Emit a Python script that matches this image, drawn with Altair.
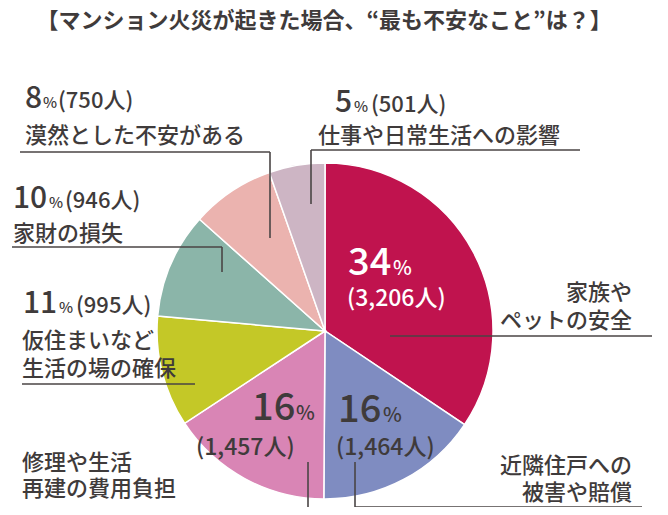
import altair as alt
import pandas as pd

# ---------------- data ----------------
categories = ["家族やペットの安全", "近隣住戸への被害や賠償", "修理や生活再建の費用負担",
              "仮住まいなど生活の場の確保", "家財の損失", "漠然とした不安がある", "仕事や日常生活への影響"]
label_lines = [["家族や", "ペットの安全"], ["近隣住戸への", "被害や賠償"], ["修理や生活", "再建の費用負担"],
               ["仮住まいなど", "生活の場の確保"], ["家財の損失"], ["漠然とした不安がある"], ["仕事や日常生活への影響"]]
percents = [34, 16, 16, 11, 10, 8, 5]
counts = [3206, 1464, 1457, 995, 946, 750, 501]
colors = ["#C0134E", "#7F8CC1", "#D985B5", "#C4C827", "#8BB5A9", "#EBB3AF", "#CDB5C4"]
title = "【マンション火災が起きた場合、“最も不安なこと”は？】"

# ---------------- layout (screen px; page margin 8) ----------------
OFF = 8
CX, CY, R = 325 - OFF, 331 - OFF, 168
FONT = "Noto Sans CJK JP"
DARK = "#3f3b3b"

# per slice: number x, number baseline, pct x, count x, count baseline, sizes, colour
num_layout = [
    dict(nx=348, ny=275, px=393, cx=347, cy=306, ns=38, ps=20, cs=23, col="white"),
    dict(nx=338, ny=422, px=383, cx=336, cy=455, ns=38, ps=20, cs=23, col=DARK),
    dict(nx=252, ny=420, px=296, cx=196, cy=455, ns=38, ps=20, cs=23, col=DARK),
    dict(nx=23, ny=313, px=59, cx=76, cy=313, ns=30, ps=15, cs=22, col=DARK),
    dict(nx=13, ny=208, px=49, cx=65, cy=208, ns=30, ps=15, cs=22, col=DARK),
    dict(nx=25, ny=108, px=43, cx=58, cy=108, ns=30, ps=15, cs=22, col=DARK),
    dict(nx=335, ny=112, px=354, cx=371, cy=112, ns=30, ps=15, cs=22, col=DARK),
]
# category text: anchor x, first baseline, line step, align
cat_layout = [
    dict(x=632, y=300, step=28, align="right"),
    dict(x=632, y=473, step=27, align="right"),
    dict(x=22, y=470, step=26, align="left"),
    dict(x=22, y=348, step=28, align="left"),
    dict(x=13, y=241, step=28, align="left"),
    dict(x=25, y=143, step=28, align="left"),
    dict(x=318, y=143, step=28, align="left"),
]
# leader lines (x1, y1, x2, y2)
leaders = [
    (390, 336, 652, 336),
    (355, 507, 642, 507), (355, 462, 355, 507),
    (14, 508, 308, 508), (308, 462, 308, 508),
    (22, 384, 195, 384),
    (12, 247, 222, 247), (222, 247, 222, 272),
    (20, 152, 270, 152), (270, 152, 270, 238),
    (311, 150, 580, 150), (311, 150, 311, 204),
]

# ---------------- tables ----------------
pie_df = pd.DataFrame({"category": categories, "count": counts, "idx": range(len(categories))})

rows = []
for i, (p, c) in enumerate(zip(percents, counts)):
    L = num_layout[i]
    rows.append(dict(x=L["nx"] - OFF, y=L["ny"] - OFF, t=str(p), s=L["ns"], c=L["col"], a="left"))
    rows.append(dict(x=L["px"] - OFF, y=L["ny"] - OFF, t="%", s=L["ps"], c=L["col"], a="left"))
    rows.append(dict(x=L["cx"] - OFF, y=L["cy"] - OFF, t=f"({c:,}人)", s=L["cs"], c=L["col"], a="left"))
    C = cat_layout[i]
    for j, line in enumerate(label_lines[i]):
        rows.append(dict(x=C["x"] - OFF, y=C["y"] + j * C["step"] - OFF, t=line, s=22, c=DARK, a=C["align"]))
text_df = pd.DataFrame(rows)

line_df = pd.DataFrame([dict(x1=a - OFF, y1=b - OFF, x2=c - OFF, y2=d - OFF) for a, b, c, d in leaders])
title_df = pd.DataFrame([dict(x=324 - OFF, y=28 - OFF, t=title)])

# ---------------- chart ----------------
pie = alt.Chart(pie_df).mark_arc(outerRadius=R, stroke="white", strokeWidth=1.5).encode(
    theta=alt.Theta("count:Q", stack=True),
    color=alt.Color("category:N", scale=alt.Scale(domain=categories, range=colors), legend=None),
    order=alt.Order("idx:Q"),
    x=alt.value(CX),
    y=alt.value(CY),
)

rules = alt.Chart(line_df).mark_rule(color="#4a4545", strokeWidth=1.6).encode(
    x=alt.X("x1:Q", scale=None, axis=None),
    x2="x2:Q",
    y=alt.Y("y1:Q", scale=None, axis=None),
    y2="y2:Q",
)


def text_layer(df, align, weight=500):
    return alt.Chart(df).mark_text(align=align, baseline="alphabetic", font=FONT, fontWeight=weight).encode(
        x=alt.X("x:Q", scale=None, axis=None),
        y=alt.Y("y:Q", scale=None, axis=None),
        text="t:N",
        size=alt.Size("s:Q", scale=None, legend=None),
        color=alt.Color("c:N", scale=None, legend=None),
    )


left_txt = text_layer(text_df[text_df.a == "left"], "left")
right_txt = text_layer(text_df[text_df.a == "right"], "right")
title_txt = alt.Chart(title_df).mark_text(align="center", baseline="alphabetic", font=FONT,
                                          fontWeight="bold", fontSize=22, color=DARK).encode(
    x=alt.X("x:Q", scale=None, axis=None),
    y=alt.Y("y:Q", scale=None, axis=None),
    text="t:N",
)

chart = alt.layer(pie, rules, left_txt, right_txt, title_txt).properties(
    width=652, height=499, padding=0, autosize="none", background="white"
).configure_view(stroke=None)

chart.save("out.html", embed_options={"renderer": "svg", "actions": False})
